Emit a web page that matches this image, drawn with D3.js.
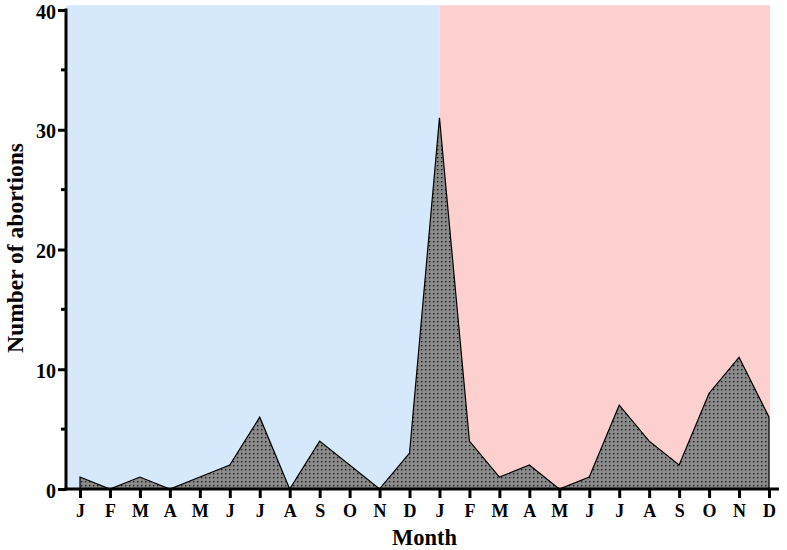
<!DOCTYPE html>
<html>
<head>
<meta charset="utf-8">
<script src="https://cdn.jsdelivr.net/npm/d3@7"></script>
<style>
  body { margin: 0; background: #fff; }
  text { font-family: "Liberation Serif", "Times New Roman", serif; font-weight: bold; }
</style>
</head>
<body>
<div id="chart"></div>
<script>
// month letters, two years
var months = ["J","F","M","A","M","J","J","A","S","O","N","D",
              "J","F","M","A","M","J","J","A","S","O","N","D"];
// abortions per month
var abortions = [1,0,1,0,1,2,6,0,4,2,0,3,
                 31,4,1,2,0,1,7,4,2,8,11,6];
var yTicks = [0,10,20,30,40];
var yMinorTicks = [5,15,25,35];

var width = 787, height = 550;
var margin = { left: 66, right: 8, top: 10, bottom: 61 };

var svg = d3.select("#chart")
    .append("svg")
    .attr("width", width)
    .attr("height", height);

//dotted fill pattern
var defs = svg.append("defs");
var pat = defs.append("pattern")
    .attr("id", "dots")
    .attr("patternUnits", "userSpaceOnUse")
    .attr("width", 4)
    .attr("height", 4);
pat.append("rect").attr("width", 4).attr("height", 4).attr("fill", "#8a8a8a");
pat.append("rect").attr("x", 1).attr("y", 1).attr("width", 1.4).attr("height", 1.4).attr("fill", "#1e1e1e");

//x scale: index -> pixel
var xScale = d3.scaleLinear()
    .domain([0, 23])
    .range([80, 769]);

var yScale = d3.scaleLinear()
    .domain([0, 40])
    .range([489, 10]);

//background halves
svg.append("rect")
    .attr("x", margin.left)
    .attr("y", yScale(40.4))
    .attr("width", xScale(12) - margin.left)
    .attr("height", yScale(0) - yScale(40.4))
    .attr("fill", "#d6e8fc");

svg.append("rect")
    .attr("x", xScale(12))
    .attr("y", yScale(40.4))
    .attr("width", xScale(23) + 1 - xScale(12))
    .attr("height", yScale(0) - yScale(40.4))
    .attr("fill", "#fdd0cf");

//area
var area = d3.area()
    .x(function (d, i) { return xScale(i); })
    .y0(yScale(0))
    .y1(function (d) { return yScale(d); });

svg.append("path")
    .datum(abortions)
    .attr("d", area)
    .attr("fill", "url(#dots)")
    .attr("stroke", "#000")
    .attr("stroke-width", 1.2)
    .attr("stroke-linejoin", "miter");

//y axis
var yAxis = d3.axisLeft(yScale)
    .tickValues(yTicks)
    .tickSize(8)
    .tickPadding(2);

var gy = svg.append("g")
    .attr("transform", "translate(" + margin.left + ",0)")
    .call(yAxis);
gy.select(".domain").remove();
gy.selectAll(".tick line").attr("stroke-width", 3);
gy.selectAll(".tick text")
    .attr("font-size", 20)
    .attr("dy", "0.4em")
    .attr("fill", "#000");

svg.append("g").selectAll("line")
    .data(yMinorTicks)
    .enter()
    .append("line")
    .attr("x1", margin.left - 5)
    .attr("x2", margin.left)
    .attr("y1", function (d) { return yScale(d); })
    .attr("y2", function (d) { return yScale(d); })
    .attr("stroke", "#000")
    .attr("stroke-width", 3);

svg.append("line")
    .attr("x1", margin.left)
    .attr("x2", margin.left)
    .attr("y1", yScale(40) - 1.5)
    .attr("y2", yScale(0) + 1.5)
    .attr("stroke", "#000")
    .attr("stroke-width", 3);

//x axis
var xAxis = d3.axisBottom(xScale)
    .tickValues(d3.range(24))
    .tickFormat(function (d) { return months[d]; })
    .tickSize(9)
    .tickPadding(6);

var gx = svg.append("g")
    .attr("transform", "translate(0," + yScale(0) + ")")
    .call(xAxis);
gx.select(".domain").remove();
gx.selectAll(".tick line").attr("stroke-width", 3);
gx.selectAll(".tick text").attr("font-size", 18).attr("fill", "#000");

svg.append("line")
    .attr("x1", margin.left - 1.5)
    .attr("x2", 779)
    .attr("y1", yScale(0))
    .attr("y2", yScale(0))
    .attr("stroke", "#000")
    .attr("stroke-width", 3);

//axis titles
svg.append("text")
    .attr("x", 424.5)
    .attr("y", 545)
    .attr("text-anchor", "middle")
    .attr("font-size", 22.5)
    .text("Month");

svg.append("text")
    .attr("transform", "translate(23,248) rotate(-90)")
    .attr("text-anchor", "middle")
    .attr("font-size", 23.5)
    .text("Number of abortions");
</script>
</body>
</html>
